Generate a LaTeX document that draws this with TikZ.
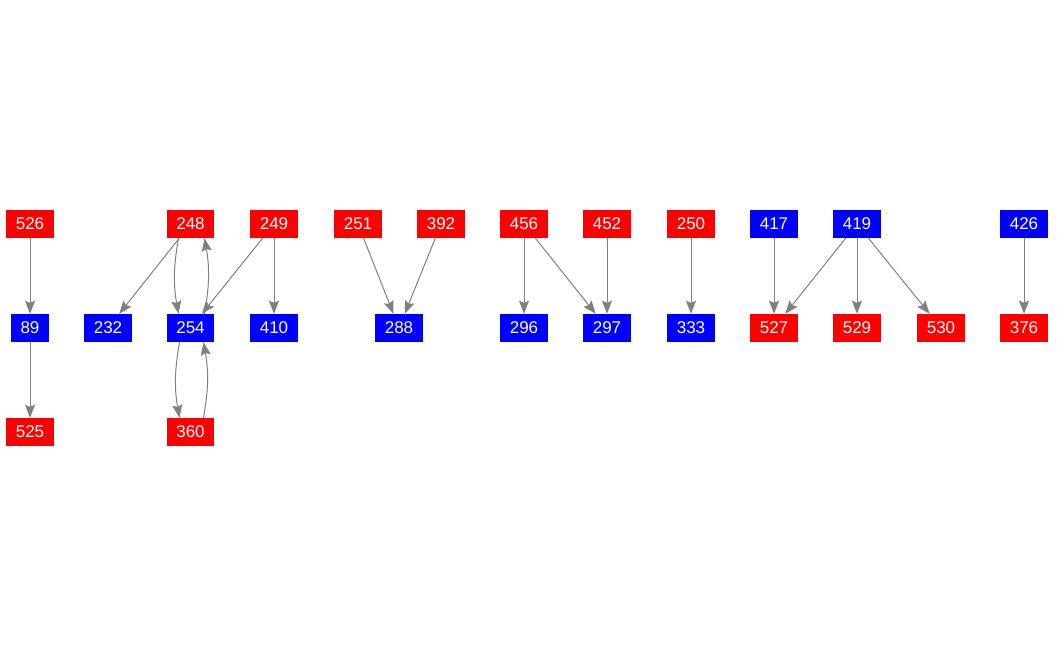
\documentclass[tikz,border=0pt]{standalone}
\usepackage{fontspec}
\setmainfont{Liberation Sans}
\usetikzlibrary{arrows.meta}

\begin{document}
\begin{tikzpicture}[x=1pt, y=1pt, >={Stealth[length=13pt, width=10pt, inset=2pt]},
	vertex/.style={minimum height=28pt, inner xsep=9.5pt, inner ysep=0pt, text=white,
		font=\fontsize{17}{18}\selectfont},
	rednode/.style={vertex, fill=red},
	bluenode/.style={vertex, fill=blue},
	arrowline/.style={->, color=gray, line width=1pt}]
\useasboundingbox (0,0) rectangle (1057,656);
%========================
% top row
%========================
\node[rednode]  (n526) at (30,432)    {526};
\node[rednode]  (n248) at (190.5,432) {248};
\node[rednode]  (n249) at (274,432)   {249};
\node[rednode]  (n251) at (358,432)   {251};
\node[rednode]  (n392) at (441,432)   {392};
\node[rednode]  (n456) at (524,432)   {456};
\node[rednode]  (n452) at (607,432)   {452};
\node[rednode]  (n250) at (691,432)   {250};
\node[bluenode] (n417) at (774,432)   {417};
\node[bluenode] (n419) at (857,432)   {419};
\node[bluenode] (n426) at (1024,432)  {426};
%========================
% middle row
%========================
\node[bluenode] (n89)  at (30,328)    {89};
\node[bluenode] (n232) at (108,328)   {232};
\node[bluenode] (n254) at (190.5,328) {254};
\node[bluenode] (n410) at (274,328)   {410};
\node[bluenode] (n288) at (399,328)   {288};
\node[bluenode] (n296) at (524,328)   {296};
\node[bluenode] (n297) at (607,328)   {297};
\node[bluenode] (n333) at (691,328)   {333};
\node[rednode]  (n527) at (774,328)   {527};
\node[rednode]  (n529) at (857,328)   {529};
\node[rednode]  (n530) at (941,328)   {530};
\node[rednode]  (n376) at (1024,328)  {376};
%========================
% bottom row
%========================
\node[rednode]  (n525) at (30,224)    {525};
\node[rednode]  (n360) at (190.5,224) {360};
% edges
\draw[arrowline] (n526) -- (n89);
\draw[arrowline] (n89) -- (n525);
\draw[arrowline] (n248) -- (n232);
\draw[arrowline] ([xshift=-12pt]n248.south) to[bend right=10] ([xshift=-12pt]n254.north);
\draw[arrowline] ([xshift=14pt]n254.north) to[bend right=10] ([xshift=14pt]n248.south);
\draw[arrowline] (n249) -- (n254);
\draw[arrowline] (n249) -- (n410);
\draw[arrowline] ([xshift=-11pt]n254.south) to[bend right=10] ([xshift=-11pt]n360.north);
\draw[arrowline] ([xshift=13pt]n360.north) to[bend right=10] ([xshift=13pt]n254.south);
\draw[arrowline] (n251) -- (n288);
\draw[arrowline] (n392) -- (n288);
\draw[arrowline] (n456) -- (n296);
\draw[arrowline] (n456) -- (n297);
\draw[arrowline] (n452) -- (n297);
\draw[arrowline] (n250) -- (n333);
\draw[arrowline] (n417) -- (n527);
\draw[arrowline] (n419) -- (n527);
\draw[arrowline] (n419) -- (n529);
\draw[arrowline] (n419) -- (n530);
\draw[arrowline] (n426) -- (n376);
\end{tikzpicture}
\end{document}
